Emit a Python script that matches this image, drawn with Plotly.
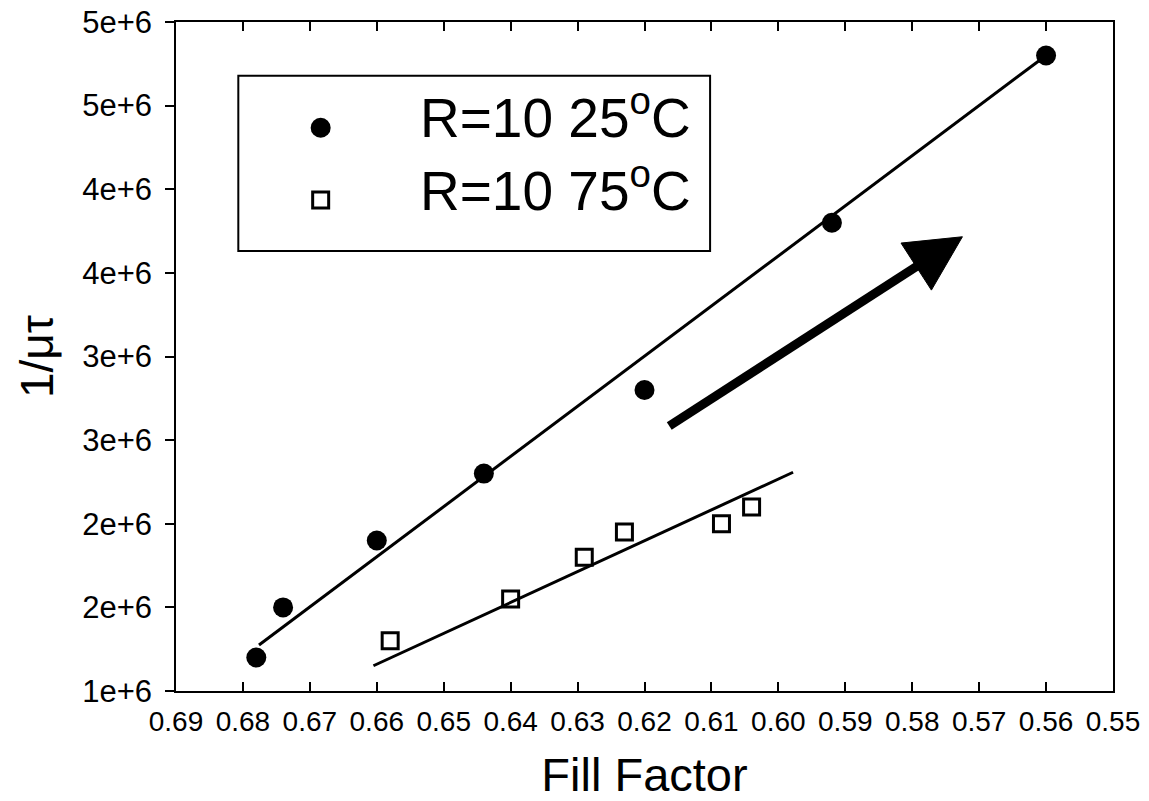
import math
import plotly.graph_objects as go

# ---------------- data ----------------
ff_25 = [0.678, 0.674, 0.660, 0.644, 0.620, 0.592, 0.560]
inv_mutau_25 = [1.20e6, 1.50e6, 1.90e6, 2.30e6, 2.80e6, 3.80e6, 4.80e6]

ff_75 = [0.658, 0.640, 0.629, 0.623, 0.6085, 0.604]
inv_mutau_75 = [1.30e6, 1.55e6, 1.80e6, 1.95e6, 2.00e6, 2.10e6]

fit_25_x = [0.6776, 0.5600]
fit_25_y = [1.275e6, 4.80e6]
fit_75_x = [0.6605, 0.5978]
fit_75_y = [1.151e6, 2.308e6]

x_ticks = [0.69, 0.68, 0.67, 0.66, 0.65, 0.64, 0.63, 0.62, 0.61, 0.60,
           0.59, 0.58, 0.57, 0.56, 0.55]
y_ticks = [1.0e6, 1.5e6, 2.0e6, 2.5e6, 3.0e6, 3.5e6, 4.0e6, 4.5e6, 5.0e6]
y_ticktext = ["1e+6", "2e+6", "2e+6", "3e+6", "3e+6", "4e+6", "4e+6", "5e+6", "5e+6"]

legend_names = ["R=10 25<sup>o</sup>C", "R=10 75<sup>o</sup>C"]

arrow_tail = (0.6163, 2.584e6)
arrow_tip = (0.5725, 3.716e6)

# ---------------- layout geometry ----------------
W, H = 1149, 801
ML, MR, MT, MB = 176, 36, 22, 110
PW, PH = W - ML - MR, H - MT - MB
X_RANGE = [0.69, 0.55]
Y_RANGE = [1.0e6, 5.0e6]
FONT = "Liberation Sans, Arial, sans-serif"


def to_px(x, y):
    px = (x - X_RANGE[0]) / (X_RANGE[1] - X_RANGE[0]) * PW
    py = (y - Y_RANGE[0]) / (Y_RANGE[1] - Y_RANGE[0]) * PH
    return px, py


def from_px(px, py):
    x = X_RANGE[0] + px / PW * (X_RANGE[1] - X_RANGE[0])
    y = Y_RANGE[0] + py / PH * (Y_RANGE[1] - Y_RANGE[0])
    return x, y


fig = go.Figure()

fig.add_trace(go.Scatter(x=fit_25_x, y=fit_25_y, mode="lines",
                         line=dict(color="black", width=3), showlegend=False))
fig.add_trace(go.Scatter(x=fit_75_x, y=fit_75_y, mode="lines",
                         line=dict(color="black", width=3), showlegend=False))
fig.add_trace(go.Scatter(x=ff_25, y=inv_mutau_25, mode="markers", name="R=10 25°C",
                         marker=dict(symbol="circle", size=20, color="black"),
                         showlegend=False))
fig.add_trace(go.Scatter(x=ff_75, y=inv_mutau_75, mode="markers", name="R=10 75°C",
                         marker=dict(symbol="square-open", size=16, color="black",
                                     line=dict(width=3, color="black")),
                         showlegend=False))

# legend symbols on an overlay axis in paper-like units
fig.add_trace(go.Scatter(x=[0.1544], y=[0.842], mode="markers", xaxis="x2", yaxis="y2",
                         marker=dict(symbol="circle", size=20, color="black"),
                         showlegend=False, hoverinfo="skip"))
fig.add_trace(go.Scatter(x=[0.1544], y=[0.734], mode="markers", xaxis="x2", yaxis="y2",
                         marker=dict(symbol="square-open", size=16, color="black",
                                     line=dict(width=3, color="black")),
                         showlegend=False, hoverinfo="skip"))

shapes = []
# legend box
shapes.append(dict(type="rect", xref="paper", yref="paper",
                   x0=0.0665, x1=0.570, y0=0.6577, y1=0.9197,
                   line=dict(color="black", width=2), fillcolor="rgba(0,0,0,0)"))

# arrow: shaft + head
tx, ty = to_px(*arrow_tail)
hx, hy = to_px(*arrow_tip)
d = math.hypot(hx - tx, hy - ty)
ux, uy = (hx - tx) / d, (hy - ty) / d
nx, ny = -uy, ux
head_len, head_w = 55, 56
bx, by = hx - ux * head_len, hy - uy * head_len
c1 = from_px(bx + nx * head_w / 2, by + ny * head_w / 2)
c2 = from_px(bx - nx * head_w / 2, by - ny * head_w / 2)
base_mid = from_px(bx + ux * 4, by + uy * 4)
shapes.append(dict(type="line", xref="x", yref="y",
                   x0=arrow_tail[0], y0=arrow_tail[1], x1=base_mid[0], y1=base_mid[1],
                   line=dict(color="black", width=9)))
shapes.append(dict(type="path", xref="x", yref="y",
                   path=f"M {arrow_tip[0]},{arrow_tip[1]} L {c1[0]},{c1[1]} L {c2[0]},{c2[1]} Z",
                   fillcolor="black", line=dict(color="black", width=1)))

annotations = []
for name, yy in zip(legend_names, [0.8618, 0.754]):
    annotations.append(dict(xref="paper", yref="paper", x=0.2583, y=yy,
                            xanchor="left", yanchor="middle", showarrow=False,
                            text=name, font=dict(family=FONT, size=55, color="black")))

fig.update_layout(
    width=W, height=H,
    margin=dict(l=ML, r=MR, t=MT, b=MB),
    paper_bgcolor="white", plot_bgcolor="white",
    font=dict(family=FONT, color="black"),
    shapes=shapes, annotations=annotations,
    xaxis=dict(range=X_RANGE, tickvals=x_ticks, tickformat=".2f",
               ticks="inside", ticklen=9, tickwidth=1.5, tickcolor="black",
               showline=True, linecolor="black", linewidth=1.5, mirror="ticks",
               showgrid=False, zeroline=False, ticklabelstandoff=5, automargin=False,
               tickfont=dict(size=28, family=FONT),
               title=dict(text="Fill Factor", font=dict(size=47, family=FONT), standoff=24)),
    yaxis=dict(range=Y_RANGE, tickvals=y_ticks, ticktext=y_ticktext,
               ticks="outside", ticklen=9, tickwidth=1.5, tickcolor="black",
               showline=True, linecolor="black", linewidth=1.5, mirror=True,
               showgrid=False, zeroline=False, ticklabelstandoff=7, automargin=False,
               tickfont=dict(size=31, family=FONT),
               title=dict(text="1/μτ", font=dict(size=46, family=FONT), standoff=14)),
    xaxis2=dict(overlaying="x", range=[0, 1], visible=False, fixedrange=True),
    yaxis2=dict(overlaying="y", range=[0, 1], visible=False, fixedrange=True),
)

fig.write_html("out.html")
